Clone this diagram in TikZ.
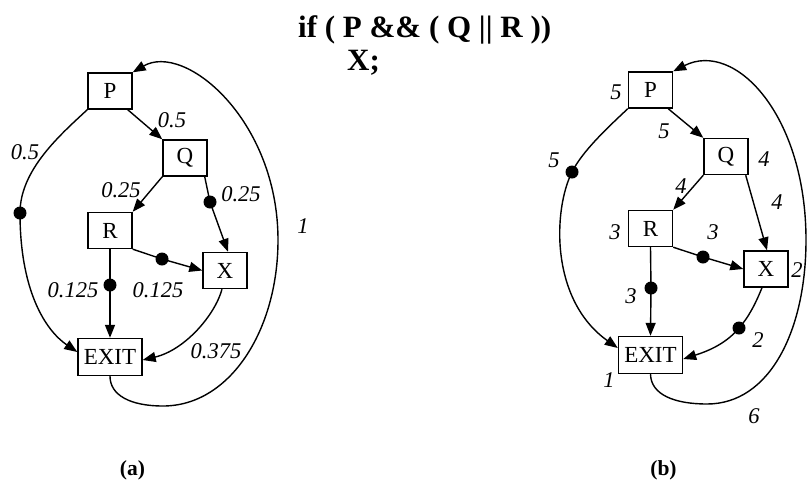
\documentclass[tikz,border=0pt]{standalone}
\usepackage{fontspec}
\setmainfont{Liberation Serif}
\usetikzlibrary{arrows.meta}
\begin{document}
\begin{tikzpicture}[x=1pt,y=-1pt,
  box/.style={draw,line width=1.4pt,minimum width=44pt,minimum height=36pt,inner sep=0pt,font=\fontsize{23}{25}\selectfont},
  exitbox/.style={box,minimum width=64pt,minimum height=37pt},
  dot/.style={circle,fill=black,inner sep=0pt,minimum size=13pt},
  lab/.style={font=\fontsize{22.5}{24}\selectfont\itshape,inner sep=0pt},
  edge/.style={line width=1.4pt,-{Triangle[length=13pt,width=10pt]}},
  ttl/.style={font=\fontsize{31}{34}\selectfont\bfseries,inner sep=0pt,anchor=base west},
  captxt/.style={font=\fontsize{21.5}{24}\selectfont\bfseries,inner sep=0pt},
]
\useasboundingbox (0,0) rectangle (809,480);

% title
\node[ttl] (t1) at (298,37) {if ( P \&\& ( Q || R ))};
\node[ttl] (t2) at (347,70) {X;};

% ================= (a) =================
\node[box] (P) at (110,91) {P};
\node[box] (Q) at (185,158) {Q};
\node[box] (R) at (110,230.5) {R};
\node[box] (X) at (225,270.5) {X};
\node[exitbox] (E) at (110,357) {EXIT};

\node[dot] (dpe) at (20,213) {};
\node[dot] (dqx) at (210,202) {};
\node[dot] (drx) at (162,259) {};
\node[dot] (dre) at (110,285) {};

\draw[edge] ([xshift=-5pt]P.south east) -- (Q.north west);
\draw[edge] (P.south west) .. controls (60,135) and (20,170) .. (dpe.center)
  .. controls (20,290) and (45,330) .. ([yshift=5pt]E.west);
\draw[edge] (Q.south west) -- (R.north east);
\draw[edge] ([xshift=-3pt]Q.south east) -- (dqx.center) -- ([xshift=3pt]X.north);
\draw[edge] (R.south east) -- (drx.center) -- (X.west);
\draw[edge] (R.south) -- (dre.center) -- (E.north);
\draw[edge] ([xshift=-3pt]X.south) .. controls (215,315) and (185,350) .. ([yshift=-3pt]E.east);
\draw[edge] (E.south) .. controls (110,395) and (130,406) .. (163,406)
  .. controls (230,406) and (278,330) .. (278,240)
  .. controls (278,120) and (185,42) .. (P.north east);

\node[lab] (la1) at (172,120) {0.5};
\node[lab] (la2) at (25,152) {0.5};
\node[lab] (la3) at (121,190) {0.25};
\node[lab] (la4) at (241,194) {0.25};
\node[lab] (la5) at (303,226) {1};
\node[lab] (la6) at (73,290) {0.125};
\node[lab] (la7) at (158,290) {0.125};
\node[lab] (la8) at (216,351) {0.375};
\node[captxt] (ca) at (132.5,470) {(a)};

% ================= (b) =================
\node[box] (P2) at (650.5,90) {P};
\node[box] (Q2) at (726,156.5) {Q};
\node[box] (R2) at (650.5,228.5) {R};
\node[box] (X2) at (766,269) {X};
\node[exitbox] (E2) at (650.5,355) {EXIT};

\node[dot] (epe) at (572,172) {};
\node[dot] (erx) at (703,257) {};
\node[dot] (ere) at (651,288) {};
\node[dot] (exe) at (739,328) {};

\draw[edge] ([xshift=-5pt]P2.south east) -- (Q2.north west);
\draw[edge] (P2.south west) .. controls (605,130) and (582,152) .. (epe.center)
  .. controls (553,210) and (550,300) .. ([yshift=7pt]E2.west);
\draw[edge] (Q2.south west) -- (R2.north east);
\draw[edge] ([xshift=-3pt]Q2.south east) -- ([xshift=1pt]X2.north);
\draw[edge] (R2.south east) -- (erx.center) -- (X2.west);
\draw[edge] (R2.south) -- (ere.center) -- (E2.north);
\draw[edge] ([xshift=-4pt]X2.south) .. controls (755,305) and (748,318) .. (exe.center)
  .. controls (725,345) and (705,352) .. ([yshift=-4pt]E2.east);
\draw[edge] (E2.south) .. controls (651,395) and (675,404) .. (707,404)
  .. controls (770,404) and (806,330) .. (806,240)
  .. controls (806,115) and (735,40) .. (P2.north east);

\node[lab] (lb1) at (616,92) {5};
\node[lab] (lb2) at (664,131) {5};
\node[lab] (lb3) at (554,160) {5};
\node[lab] (lb4) at (764,159) {4};
\node[lab] (lb5) at (681,186) {4};
\node[lab] (lb6) at (777,202) {4};
\node[lab] (lb7) at (615,232) {3};
\node[lab] (lb8) at (713,232) {3};
\node[lab] (lb9) at (631,296) {3};
\node[lab] (lb10) at (797,270) {2};
\node[lab] (lb11) at (758,340) {2};
\node[lab] (lb12) at (609,380) {1};
\node[lab] (lb13) at (754,416) {6};
\node[captxt] (cb) at (663.5,470) {(b)};
\end{tikzpicture}
\end{document}
